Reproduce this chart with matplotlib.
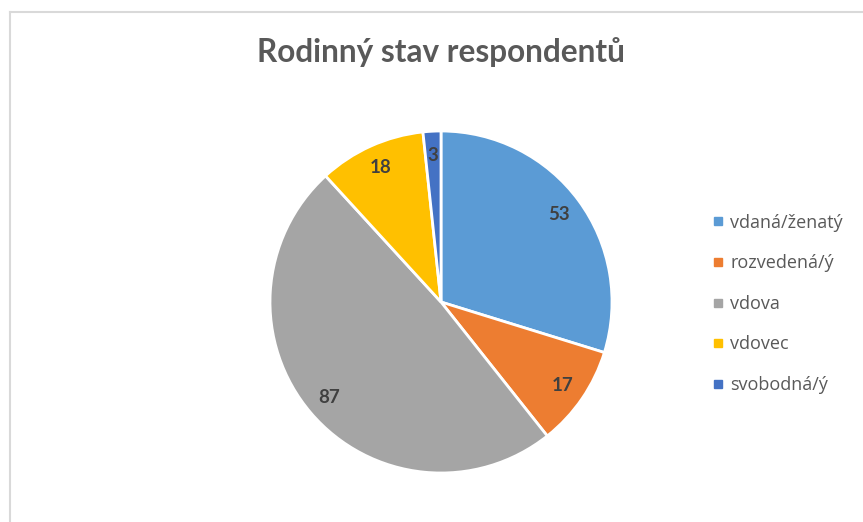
import matplotlib
matplotlib.use("Agg")
import matplotlib.pyplot as plt
from matplotlib.lines import Line2D

categories = ["vdaná/ženatý", "rozvedená/ý", "vdova", "vdovec", "svobodná/ý"]
values = [53, 17, 87, 18, 3]
colors = ["#5B9BD5", "#ED7D31", "#A5A5A5", "#FFC000", "#4472C4"]
title = "Rodinný stav respondentů"

plt.rcParams['font.family'] = ['Lato', 'DejaVu Sans']

W, H = 863, 522
fig = plt.figure(figsize=(W / 100, H / 100), dpi=100)

# chart border (light gray)
fig.add_artist(Line2D([9.5 / W, 9.5 / W], [0, 1 - 11.5 / H], transform=fig.transFigure,
                      color="#D9D9D9", lw=1.5))
fig.add_artist(Line2D([9.5 / W, 1], [1 - 11.5 / H, 1 - 11.5 / H], transform=fig.transFigure,
                      color="#D9D9D9", lw=1.5))

cx, cy, r = 441, 302, 171
ax = fig.add_axes([(cx - r) / W, (H - cy - r) / H, 2 * r / W, 2 * r / H])
wedges, texts, autotexts = ax.pie(
    values, colors=colors, startangle=90, counterclock=False, radius=1,
    autopct=lambda p: f"{round(p * sum(values) / 100):d}", pctdistance=0.86,
    wedgeprops=dict(edgecolor="white", linewidth=2),
    textprops=dict(color="#404040", fontsize=13.5, fontweight="bold"))
ax.set_xlim(-1, 1)
ax.set_ylim(-1, 1)
ax.set_aspect("equal")
ax.axis("off")

fig.text(441 / W, 1 - 52 / H, title, ha="center", va="center",
         fontsize=22.7, fontweight="bold", color="#595959")

handles = [Line2D([], [], marker="s", linestyle="none", markersize=6,
                  markerfacecolor=c, markeredgecolor=c) for c in colors]
leg = fig.legend(handles, categories, loc="upper left",
                 bbox_to_anchor=(706 / W, 1 - 206.5 / H), frameon=False,
                 prop=dict(family=["Open Sans", "DejaVu Sans"], size=13),
                 labelcolor="#595959", labelspacing=1.25,
                 handlelength=0.55, handletextpad=0.4, borderaxespad=0)

fig.savefig("out.png", dpi=100, facecolor="white")
